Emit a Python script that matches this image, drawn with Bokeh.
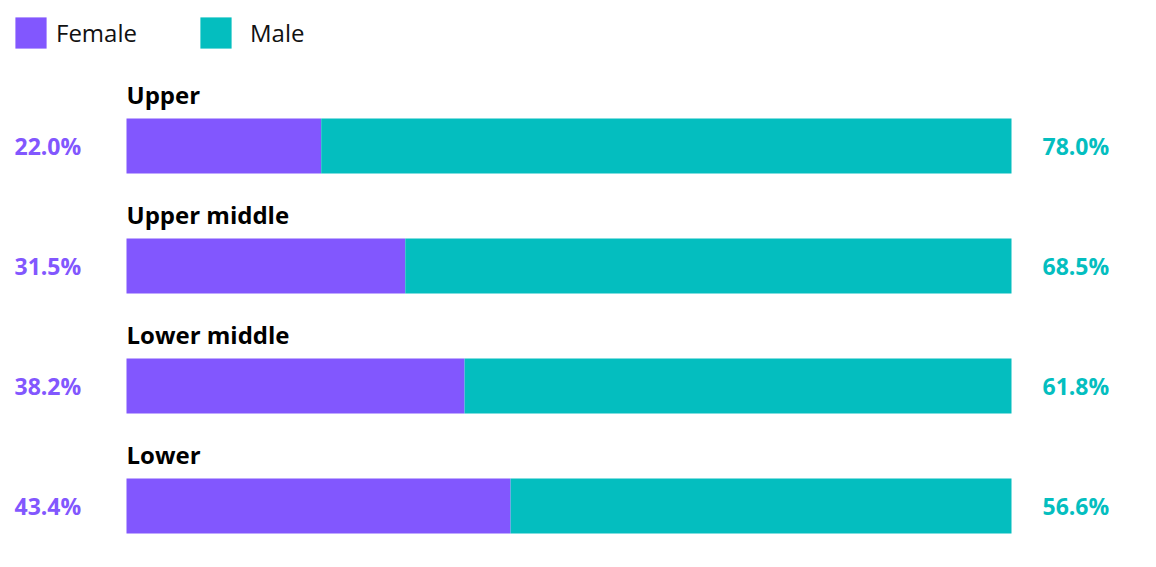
from bokeh.plotting import figure
from bokeh.models import ColumnDataSource, Range1d, Legend
from bokeh.core.properties import value
from bokeh.embed import file_html
from bokeh.resources import INLINE

# data
groups = ["Upper", "Upper middle", "Lower middle", "Lower"]
female = [22.0, 31.5, 38.2, 43.4]
male = [78.0, 68.5, 61.8, 56.6]

PURPLE = "#8257FE"
TEAL = "#04BEBF"
FONT = "Open Sans"

width = 1140
height = 551

src = ColumnDataSource(data=dict(
    group=groups,
    y=[-i for i in range(len(groups))],
    label_y=[-i + 0.43 for i in range(len(groups))],
    female=female,
    male=male,
    total=[f + m for f, m in zip(female, male)],
    zero=[0] * len(groups),
    female_txt=[f"{v:.1f}%" for v in female],
    male_txt=[f"{v:.1f}%" for v in male],
))

p = figure(
    width=width, height=height,
    x_range=Range1d(-126 / 8.85, 100 + 129 / 8.85),
    y_range=Range1d(-(551 - 145.5) / 120, 145.5 / 120),
    output_backend="svg",
    toolbar_location=None,
    x_axis_location=None, y_axis_location=None,
    min_border=0,
)
p.outline_line_color = None
p.grid.grid_line_color = None

bars = p.hbar_stack(["female", "male"], y="y", height=0.46, color=[PURPLE, TEAL],
                    source=src, line_color=None)

# category names above bars
p.text(x="zero", y="label_y", text="group", source=src, text_font=value(FONT),
       text_font_style="bold", text_font_size="24px", text_color="black",
       text_baseline="middle", text_align="left", x_offset=0)

# percentages on both sides
p.text(x="zero", y="y", text="female_txt", source=src, text_font=value(FONT),
       text_font_style="bold", text_font_size="23px", text_color=PURPLE,
       text_baseline="middle", text_align="left", x_offset=-112)
p.text(x="total", y="y", text="male_txt", source=src, text_font=value(FONT),
       text_font_style="bold", text_font_size="23px", text_color=TEAL,
       text_baseline="middle", text_align="left", x_offset=31)

# legend glyphs are drawn at 80% of the glyph box; one legend per entry
for name, rend, loc, standoff in [("Female", bars[0], (11, 499), 6),
                                  ("Male", bars[1], (196, 499), 15)]:
    legend = Legend(items=[(name, [rend])], location=loc,
                    glyph_width=39, glyph_height=39, label_standoff=standoff,
                    spacing=0, padding=0, margin=0,
                    border_line_color=None, background_fill_alpha=0,
                    label_text_font=FONT, label_text_font_size="24px",
                    label_text_color="#111111")
    p.add_layout(legend)

open("out.html", "w").write(file_html(p, INLINE))
